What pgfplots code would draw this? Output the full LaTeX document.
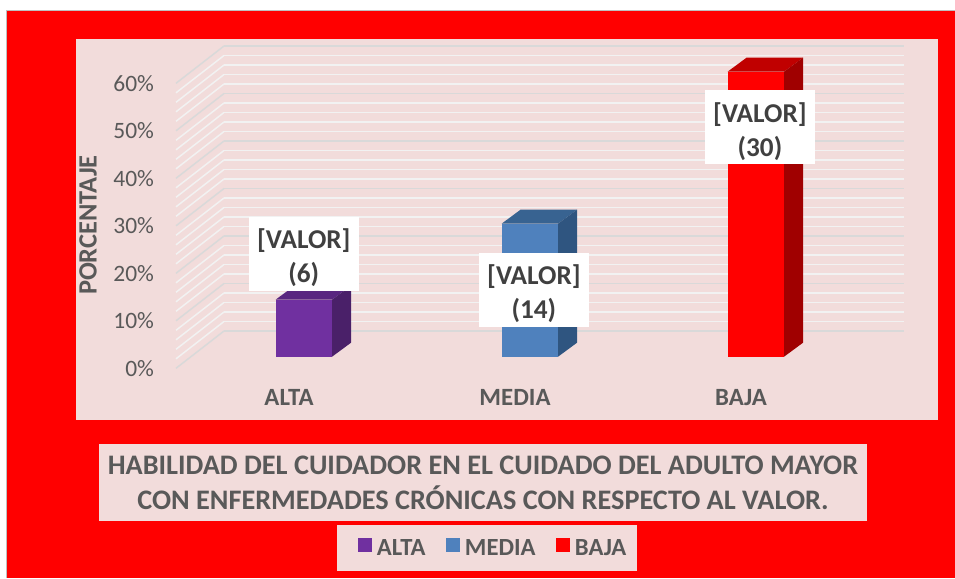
\documentclass[border=0pt]{standalone}
\usepackage{fontspec}
\setmainfont{Carlito}
\usepackage{pgfplots}
\pgfplotsset{compat=1.18}

\definecolor{panel}{HTML}{F2DCDB}
\definecolor{txt}{HTML}{595959}
\definecolor{lbl}{HTML}{404040}
\definecolor{gridmaj}{HTML}{D9D9D9}
\definecolor{gridmin}{HTML}{F2F2F2}
\definecolor{altaF}{HTML}{7030A0}
\definecolor{altaS}{HTML}{4A2069}
\definecolor{altaT}{HTML}{592680}
\definecolor{mediaF}{HTML}{4F81BD}
\definecolor{mediaS}{HTML}{2F5580}
\definecolor{mediaT}{HTML}{386391}
\definecolor{bajaF}{HTML}{FF0000}
\definecolor{bajaS}{HTML}{A00000}
\definecolor{bajaT}{HTML}{C00000}

% 1 px of the reference = 0.75pt, y runs downwards inside the scopes
\begin{document}
\begin{tikzpicture}
\begin{scope}[x=0.75pt,y=-0.75pt]
\useasboundingbox (0,0) rectangle (955,578);
\fill[white] (0,0) rectangle (955,578);
\fill[red] (7,11) rectangle (955,578);
\draw[black!25,line width=0.6pt] (6.6,578) -- (6.6,10.6) -- (955,10.6);
\fill[panel] (76,39) rectangle (938,420);
\fill[panel] (99,444) rectangle (867,521);
\fill[panel] (337,525) rectangle (637,571);

% side wall
\foreach \v in {0,2,...,60}{
  \pgfmathtruncatemacro{\m}{mod(\v,10)}
  \ifnum\m=0
    \draw[gridmaj,line width=1.1pt] (176,368.3-4.75*\v) -- (224,331-4.75*\v);
  \else
    \draw[gridmin,line width=1.1pt] (176,368.3-4.75*\v) -- (224,331-4.75*\v);
  \fi
}
\end{scope}

% back wall
\begin{axis}[
  at={(168pt,-248.25pt)}, anchor=south west,
  scale only axis, width=510pt, height=213.75pt,
  xmin=0, xmax=1, ymin=0, ymax=60,
  xtick=\empty, ytick={0,10,...,60}, yticklabels={},
  minor y tick num=4,
  ymajorgrids, yminorgrids,
  major grid style={gridmaj,line width=1.2pt},
  minor grid style={gridmin,line width=1.1pt},
  axis line style={draw=none},
  tick style={draw=none},
]
\addplot[draw=none] coordinates {(0,0) (1,60)};
\end{axis}

% front plane with the bars
\begin{axis}[
  at={(132pt,-276.225pt)}, anchor=south west,
  scale only axis, width=508.5pt, height=213.75pt,
  xmin=-0.5, xmax=2.5, ymin=0, ymax=60,
  clip=false,
  axis line style={draw=none},
  tick style={draw=none},
  xtick={0,1,2}, xticklabels={ALTA,MEDIA,BAJA},
  ytick={0,10,...,60},
  yticklabel={\pgfmathprintnumber{\tick}\%},
  /pgf/number format/assume math mode=true,
  yticklabel style={font=\fontsize{17.6}{20}\selectfont,text=txt,xshift=-13pt},
  xticklabel style={font=\fontsize{18.6}{20}\bfseries\selectfont,text=txt,yshift=-12.5pt},
  every axis plot/.append style={xshift=11.1pt,yshift=8.7pt},
  legend style={at={(0.468,-0.6305)},anchor=center,fill=none,draw=none,
    font=\fontsize{18.5}{20}\bfseries\selectfont,text=txt,
    inner xsep=0pt,inner ysep=6pt,
    /tikz/every odd column/.append style={column sep=2pt},
    /tikz/every even column/.append style={column sep=13pt}},
  legend columns=3,
  legend image code/.code={\fill[#1] (0pt,-12pt) rectangle (10.5pt,-1.5pt);},
  lbl box/.style 2 args={every node near coord/.style={anchor=center,xshift=#1,yshift=#2,
    fill=white,align=center,text=lbl,inner sep=0pt,
    minimum width=82.5pt,minimum height=55.5pt,
    font=\fontsize{20.4}{25.5}\bfseries\selectfont}},
]
% tops and sides: depth is 0.084 categories and 2.95 points
\addplot[fill=altaT,draw=none,forget plot] coordinates {(-0.125,12) (-0.041,14.95) (0.209,14.95) (0.125,12)} -- cycle;
\addplot[fill=altaS,draw=none,forget plot] coordinates {(0.125,0) (0.209,2.95) (0.209,14.95) (0.125,12)} -- cycle;
\addplot[fill=mediaT,draw=none,forget plot] coordinates {(0.875,28) (0.959,30.95) (1.209,30.95) (1.125,28)} -- cycle;
\addplot[fill=mediaS,draw=none,forget plot] coordinates {(1.125,0) (1.209,2.95) (1.209,30.95) (1.125,28)} -- cycle;
\addplot[fill=bajaT,draw=none,forget plot] coordinates {(1.875,60) (1.959,62.95) (2.209,62.95) (2.125,60)} -- cycle;
\addplot[fill=bajaS,draw=none,forget plot] coordinates {(2.125,0) (2.209,2.95) (2.209,62.95) (2.125,60)} -- cycle;

\addplot[ybar,bar width=42.45pt,bar shift=0pt,fill=altaF,draw=none,
  nodes near coords={\rule{0pt}{21pt}[VALOR]\\(6)},lbl box={0pt}{34.3pt}] coordinates {(0,12)};
\addlegendentry{ALTA}
\addplot[ybar,bar width=42.45pt,bar shift=0pt,fill=mediaF,draw=none,
  nodes near coords={\rule{0pt}{21pt}[VALOR]\\(14)},lbl box={3.1pt}{-49.5pt}] coordinates {(1,28)};
\addlegendentry{MEDIA}
\addplot[ybar,bar width=42.45pt,bar shift=0pt,fill=bajaF,draw=none,
  nodes near coords={\rule{0pt}{21pt}[VALOR]\\(30)},lbl box={3.1pt}{-41.8pt}] coordinates {(2,60)};
\addlegendentry{BAJA}
\end{axis}

\begin{scope}[x=0.75pt,y=-0.75pt]
\node[rotate=90,text=txt,font=\fontsize{19.8}{20}\bfseries\selectfont] at (88,225) {PORCENTAJE};
\node[align=center,text=txt,inner sep=0pt,font=\fontsize{21.2}{26}\bfseries\selectfont] at (483,483)
  {HABILIDAD DEL CUIDADOR EN EL CUIDADO DEL ADULTO MAYOR\\CON ENFERMEDADES CRÓNICAS CON RESPECTO AL VALOR.};
\end{scope}
\end{tikzpicture}
\end{document}
